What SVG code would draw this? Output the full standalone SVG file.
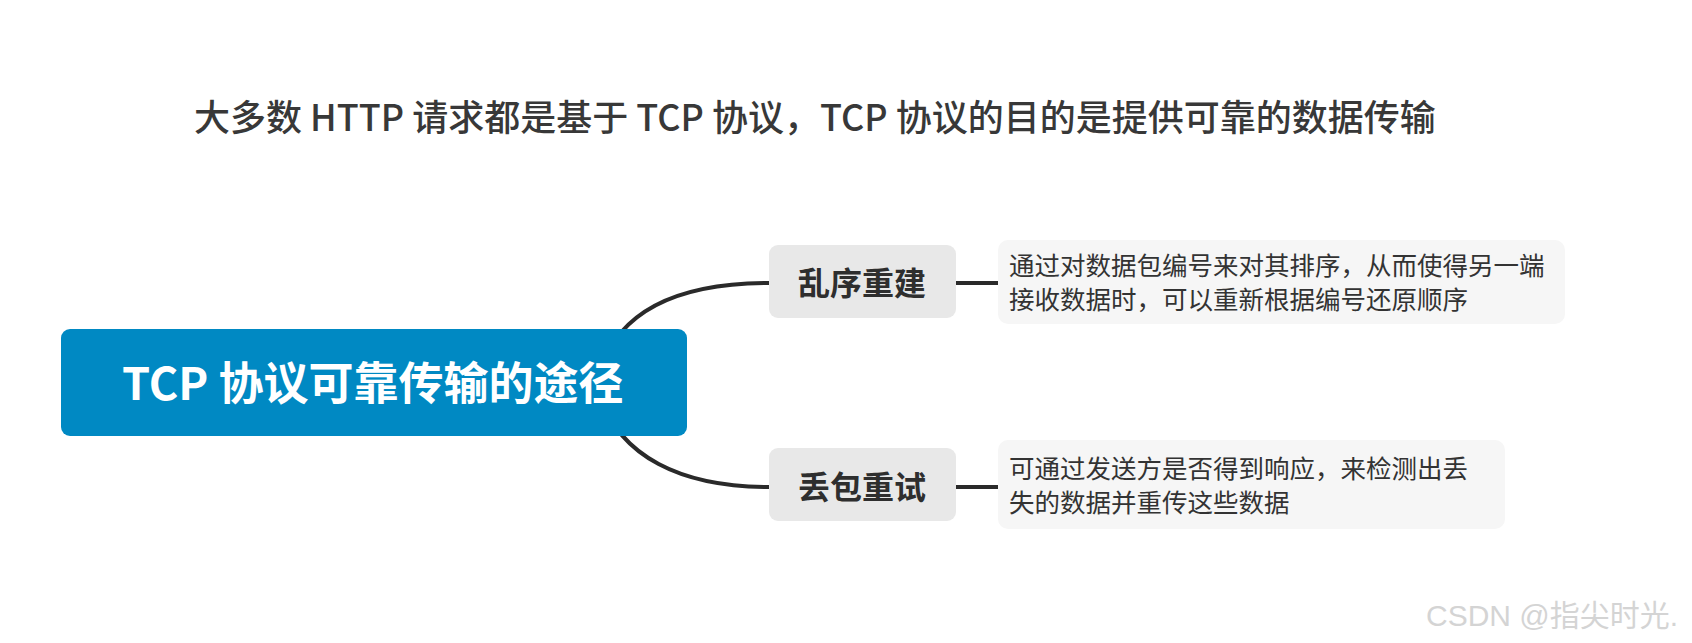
<svg xmlns="http://www.w3.org/2000/svg" width="1692" height="643" viewBox="0 0 1692 643">
<style>
.f{font-family:"Noto Sans CJK SC","Noto Sans",sans-serif}
.title{font-size:36px;fill:#383838;font-weight:500}
.root-text{font-size:45px;font-weight:700;fill:#ffffff}
.sub-box{fill:#e8e8e8}
.sub-text{font-size:32px;font-weight:700;fill:#2e2e2e}
.note-box{fill:#f6f6f6}
.note-text{font-size:25.5px;fill:#333333}
.conn{fill:none;stroke:#2a2a2a;stroke-width:4;stroke-linecap:butt}
.wm{font-family:"Liberation Sans","Noto Sans CJK SC",sans-serif;font-size:30px;fill:#d4d4d4}
</style>
<rect width="1692" height="643" fill="#ffffff"/>
<text class="f title" x="194" y="131">大多数 HTTP 请求都是基于 TCP 协议，TCP 协议的目的是提供可靠的数据传输</text>
<g id="connectors">
<path class="conn" d="M600,370 C620,310 680,283 769,283"/>
<path class="conn" d="M600,396 C620,456 680,487 769,487"/>
<line class="conn" x1="956" y1="283" x2="998" y2="283"/>
<line class="conn" x1="956" y1="487" x2="998" y2="487"/>
</g>
<g id="root">
<rect x="61" y="329" width="626" height="107" rx="9" fill="#0089c3"/>
<text class="f root-text" x="122" y="400">TCP 协议可靠传输的途径</text>
</g>
<g id="node-reorder">
<rect class="sub-box" x="769" y="245" width="187" height="73" rx="9"/>
<text class="f sub-text" x="862" y="295" text-anchor="middle">乱序重建</text>
</g>
<g id="node-retry">
<rect class="sub-box" x="769" y="448" width="187" height="73" rx="9"/>
<text class="f sub-text" x="862" y="499" text-anchor="middle">丢包重试</text>
</g>
<g id="note-reorder">
<rect class="note-box" x="998" y="240" width="567" height="84" rx="10"/>
<text class="f note-text" x="1009" y="275">通过对数据包编号来对其排序，从而使得另一端</text>
<text class="f note-text" x="1009" y="309">接收数据时，可以重新根据编号还原顺序</text>
</g>
<g id="note-retry">
<rect class="note-box" x="998" y="440" width="507" height="89" rx="10"/>
<text class="f note-text" x="1009" y="478">可通过发送方是否得到响应，来检测出丢</text>
<text class="f note-text" x="1009" y="512">失的数据并重传这些数据</text>
</g>
<text class="wm" x="1426" y="626">CSDN @指尖时光.</text>
</svg>
